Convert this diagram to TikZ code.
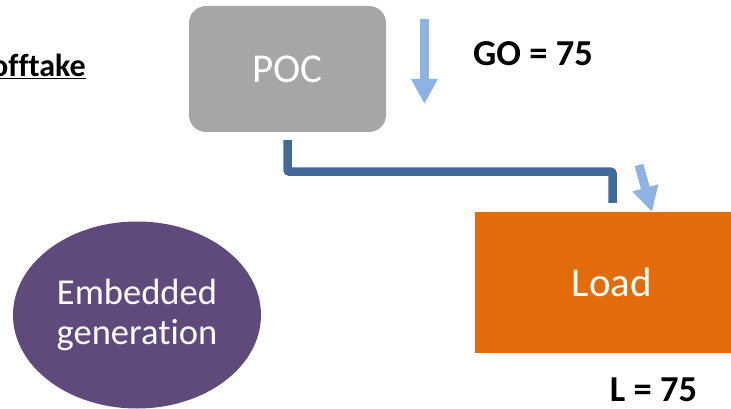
\documentclass[tikz,border=0pt]{standalone}
\usepackage{fontspec}
\setmainfont{Carlito}[Ligatures=CommonOff]
\usetikzlibrary{shapes.geometric,arrows.meta}
\definecolor{pocgray}{HTML}{A6A6A6}
\definecolor{loadorange}{HTML}{E36C0A}
\definecolor{embpurple}{HTML}{604A7B}
\definecolor{connblue}{HTML}{41699A}
\definecolor{flowblue}{HTML}{8DB3E2}
\tikzset{
  boxtext/.style={text=white,font=\fontsize{41}{48}\selectfont,inner sep=0pt},
  pocbox/.style={boxtext,fill=pocgray,rounded corners=17pt,minimum width=197pt,minimum height=126pt},
  loadbox/.style={boxtext,fill=loadorange,minimum width=256pt,minimum height=141pt},
  embell/.style={ellipse,fill=embpurple,text=white,font=\fontsize{36.5}{40.5}\selectfont,minimum width=248pt,minimum height=187pt,inner sep=0pt,align=center},
  conn/.style={draw=connblue,line width=8.5pt,rounded corners=2pt},
  flow/.style={draw=flowblue,line width=9pt,-{Triangle[width=25pt,length=25pt]}},
  valtext/.style={font=\bfseries\fontsize{36.5}{43}\selectfont,inner sep=0pt},
}
\begin{document}
\begin{tikzpicture}[x=1pt,y=-1pt]
\useasboundingbox (0,0) rectangle (731,409);
\node[pocbox] (POC) at (287.5,69) {POC};
\node[loadbox] (Load) at (603,282.5) {\hspace*{18pt}Load};
\node[embell] (Emb) at (137,315) {Embedded\\generation};
\node[valtext] (GO) at (533,53.5) {GO = 75};
\node[valtext] (L) at (653.5,390) {L = 75};
\node[font=\bfseries\fontsize{32}{38}\selectfont,inner sep=0pt,anchor=base east] (off) at (86,77) {\underline{offtake}};
\coordinate (cs) at ([yshift=-8pt]POC.south);
\coordinate (ce) at ([xshift=9.5pt,yshift=9pt]Load.north);
\draw[conn] (cs) -- ++(0,31.5) -| (ce);
\coordinate (f1s) at (424.5,19);
\coordinate (f1e) at (424.5,104);
\draw[flow] (f1s) -- (f1e);
\coordinate (f2s) at (639,165);
\coordinate (f2e) at (652,212);
\draw[flow] (f2s) -- (f2e);
\end{tikzpicture}
\end{document}
